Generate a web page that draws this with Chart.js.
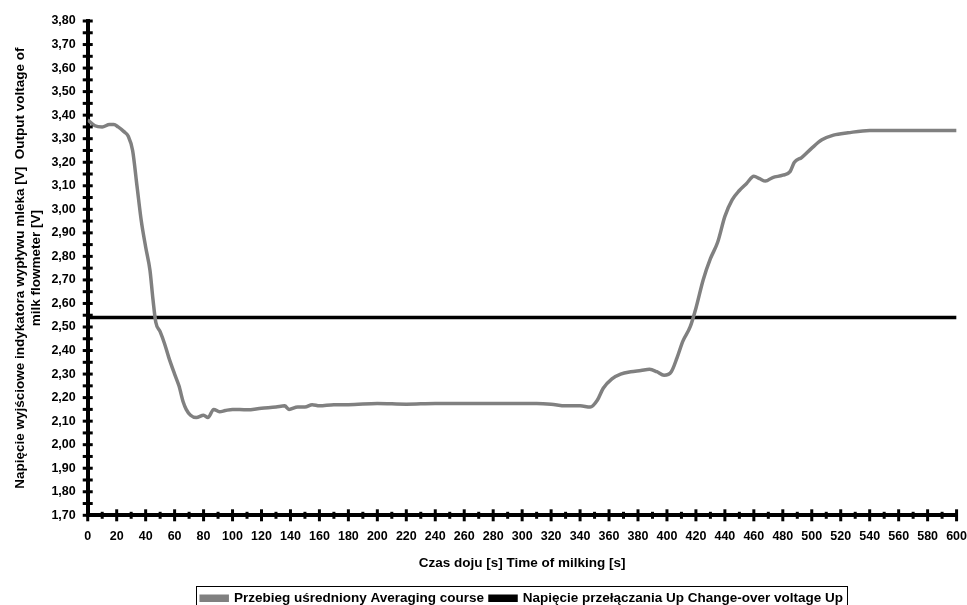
<!DOCTYPE html>
<html>
<head>
<meta charset="utf-8">
<script src="https://cdn.jsdelivr.net/npm/chart.js@4"></script>
<style>
  body{margin:0;background:#fff;}
  #wrap{width:967px;height:605px;position:relative;}
</style>
</head>
<body>
<div id="wrap"><canvas id="chart"></canvas></div>
<script>
// czas [s] i napiecie [V]
const times = [0,5,10,15,18,21,25,28,31,34,37,40,43,45,47,50,53,56,60,63,66,68,71,75,80,83,87,91,95,100,110,120,130,136,139,145,150,155,160,170,180,200,220,240,260,280,300,310,320,330,340,347,352,356,362,368,375,382,388,393,398,403,407,411,416,420,425,430,435,440,445,450,455,460,464,468,473,480,485,488,493,500,507,515,525,540,600];
const avgVoltage = [3.38,3.355,3.35,3.36,3.36,3.35,3.33,3.31,3.25,3.10,2.95,2.84,2.74,2.62,2.52,2.48,2.43,2.37,2.30,2.25,2.18,2.15,2.125,2.115,2.125,2.115,2.15,2.14,2.145,2.15,2.148,2.155,2.16,2.165,2.15,2.16,2.16,2.17,2.165,2.17,2.17,2.175,2.172,2.175,2.175,2.175,2.175,2.175,2.172,2.165,2.165,2.16,2.19,2.24,2.28,2.30,2.31,2.315,2.32,2.31,2.295,2.31,2.37,2.44,2.50,2.58,2.70,2.79,2.86,2.97,3.04,3.08,3.11,3.14,3.13,3.12,3.135,3.145,3.16,3.20,3.22,3.26,3.295,3.315,3.325,3.335,3.335];
const thresholdTimes = [0,600];
const thresholdVoltage = [2.54,2.54];
const seriesNames = ['Przebieg uśredniony Averaging course','Napięcie przełączania Up Change-over voltage Up'];
const xTitle = 'Czas doju [s] Time of milking [s]';
const yTitle = ['Napięcie wyjściowe indykatora wypływu mleka [V]  Output voltage of','milk flowmeter [V]'];

const FONT = "'Liberation Sans', Arial, sans-serif";
const NONE = 'rgba(0,0,0,0)';

function toPoints(xs, ys){
  return xs.map((t,i)=>({x:t,y:ys[i]}));
}

// kreski podzialki przechodzace przez os
const crossTicks = {
  id:'crossTicks',
  afterDatasetsDraw(chart){
    const ctx = chart.ctx, xs = chart.scales.x, ys = chart.scales.y;
    ctx.save();
    ctx.strokeStyle = '#000';
    ctx.lineWidth = 3;
    xs.ticks.forEach(t=>{
      const px = xs.getPixelForValue(t.value);
      const len = Math.round(t.value)%20===0 ? 6 : 3.5;
      ctx.beginPath();
      ctx.moveTo(px, ys.bottom-len);
      ctx.lineTo(px, ys.bottom+len);
      ctx.stroke();
    });
    ys.ticks.forEach(t=>{
      const py = ys.getPixelForValue(t.value);
      ctx.beginPath();
      ctx.moveTo(xs.left-5, py);
      ctx.lineTo(xs.left+5, py);
      ctx.stroke();
    });
    ctx.restore();
  }
};

// ramka legendy
const legendFrame = {
  id:'legendFrame',
  afterDraw(chart){
    const lg = chart.legend;
    if(!lg || !lg.legendHitBoxes.length) return;
    const hb = lg.legendHitBoxes;
    const l = hb[0].left - 5;
    const r = hb[hb.length-1].left + hb[hb.length-1].width + 4;
    const ctx = chart.ctx;
    ctx.save();
    ctx.strokeStyle = '#000';
    ctx.lineWidth = 1;
    ctx.strokeRect(Math.round(l)+0.5, Math.round(hb[0].top-6)+0.5, Math.round(r-l), 40);
    ctx.restore();
  }
};

new Chart(document.getElementById('chart'), {
  type:'line',
  data:{
    datasets:[
      {
        label:seriesNames[0],
        data:toPoints(times, avgVoltage),
        borderColor:'#808080',
        backgroundColor:'#808080',
        borderWidth:3.5,
        pointRadius:0,
        cubicInterpolationMode:'monotone'
      },
      {
        label:seriesNames[1],
        data:toPoints(thresholdTimes, thresholdVoltage),
        borderColor:'#000',
        backgroundColor:'#000',
        borderWidth:3.5,
        pointRadius:0
      }
    ]
  },
  options:{
    responsive:true,
    maintainAspectRatio:false,
    animation:false,
    layout:{padding:{top:21,right:0,left:12,bottom:-10}},
    plugins:{
      tooltip:{enabled:false},
      legend:{
        position:'bottom',
        fullSize:false,
        labels:{
          color:'#000',
          font:{family:FONT,size:13.5,weight:'bold'},
          boxWidth:26,
          boxHeight:4,
          padding:6
        }
      }
    },
    scales:{
      x:{
        type:'linear',
        min:0,max:600,
        grid:{display:true,drawOnChartArea:false,drawTicks:true,tickLength:14,tickColor:NONE,color:NONE},
        border:{display:true,color:'#000',width:4},
        ticks:{
          stepSize:10,
          autoSkip:false,
          maxRotation:0,
          padding:0,
          color:'#000',
          font:{family:FONT,size:12.5,weight:'bold'},
          callback:v=>Math.round(v)%20===0 ? String(Math.round(v)) : ''
        },
        title:{
          display:true,
          text:xTitle,
          color:'#000',
          font:{family:FONT,size:13.5,weight:'bold'},
          padding:{top:11,bottom:14}
        }
      },
      y:{
        min:1.7,max:3.8,
        grid:{display:true,drawOnChartArea:false,drawTicks:true,tickLength:10,tickColor:NONE,color:NONE},
        border:{display:true,color:'#000',width:4},
        ticks:{
          stepSize:0.05,
          autoSkip:false,
          padding:2,
          color:'#000',
          font:{family:FONT,size:12.5,weight:'bold'},
          callback:v=>{
            const c = Math.round(v*100);
            return c%10===0 ? (c/100).toFixed(2).replace('.',',') : '';
          }
        },
        title:{
          display:true,
          text:yTitle,
          color:'#000',
          font:{family:FONT,size:13.5,weight:'bold'},
          padding:{top:0,bottom:5}
        }
      }
    }
  },
  plugins:[crossTicks, legendFrame]
});
</script>
</body>
</html>
